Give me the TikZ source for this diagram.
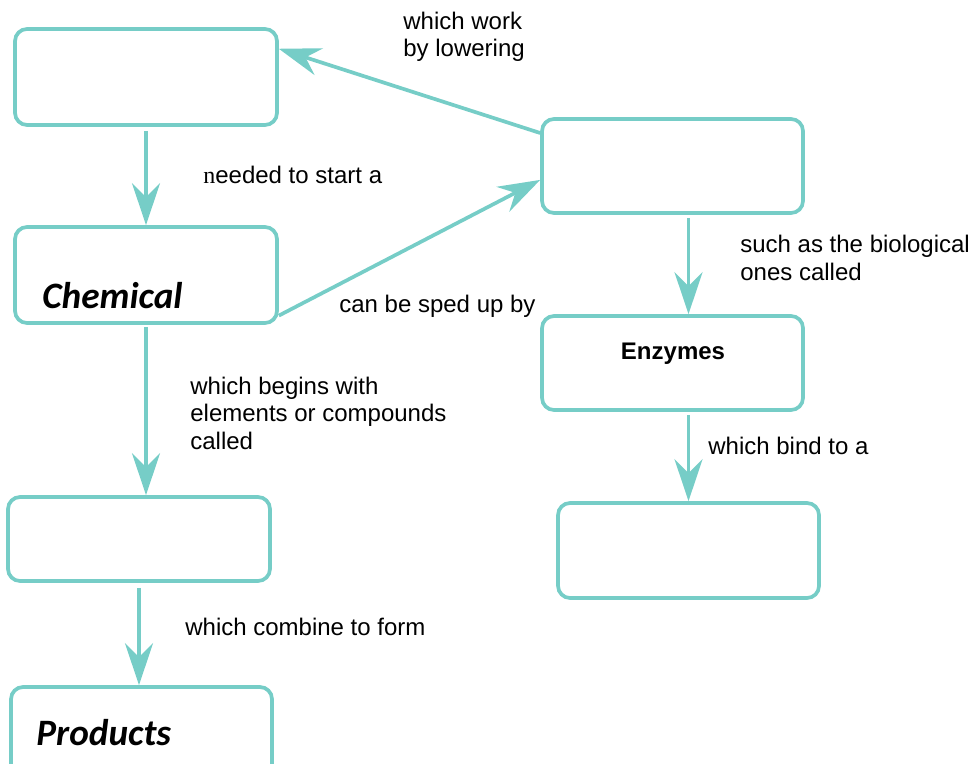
\documentclass[tikz,border=0pt]{standalone}
\usepackage{fontspec}
\setmainfont{Liberation Sans}
\newfontfamily\calfont{Carlito}
\newfontfamily\serfont{Liberation Serif}
\usetikzlibrary{arrows.meta}
\definecolor{mapteal}{RGB}{118,205,199}
\tikzset{
  box/.style={draw=mapteal, line width=2.1pt, rounded corners=0.24cm,
    minimum width=5.24cm, minimum height=1.92cm, inner sep=0pt},
  lbl/.style={anchor=base west, inner sep=0pt, align=left,
    font=\fontsize{13.66}{15.37}\selectfont},
  word/.style={anchor=base west, inner sep=0pt,
    font=\calfont\bfseries\itshape\fontsize{21.2}{24}\selectfont},
  link/.style={draw=mapteal, line width=2.1pt,
    -{Stealth[length=0.84cm, width=0.56cm, inset=0.28cm]}},
}

\begin{document}
\begin{tikzpicture}[x=0.02cm, y=-0.02cm]
\useasboundingbox (0,0) rectangle (972,763);
\node[box] (energy) at (146,77) {}; % top left
\node[box] (chem) at (146,275) {}; % Chemical
\node[box, minimum height=1.68cm] (reactants) at (139,539) {}; % left, third
\node[box, minimum width=5.22cm] (products) at (141.5,735) {}; % Products
\node[box, minimum width=5.22cm, minimum height=1.88cm] (catalyst) at (672.5,166) {}; % right top
\node[box, minimum width=5.22cm, minimum height=1.88cm] (enzymes) at (672.5,363) {}; % Enzymes
\node[box, minimum width=5.22cm, minimum height=1.9cm] (substrate) at (688.5,550.5) {}; % right bottom

\node[word] (chemtxt) at (42,308) {Chemical};
\node[word] (prodtxt) at (36,745) {Products};
\node[anchor=base, inner sep=0pt, font=\bfseries\fontsize{13.66}{15.37}\selectfont] (enztxt) at (673,359) {Enzymes};

\draw[link, shorten <=0.08cm] (energy.south) -- (chem.north); % needed
\draw[link, shorten <=0.04cm] (chem.south) -- (chem.south |- reactants.north); % begins
\draw[link, shorten <=0.1cm] (reactants.south) -- (reactants.south |- products.north); % combine
\draw[link] (chem.-17) -- (catalyst.186.6); % sped up
\draw[link] (catalyst.166) -- (energy.12.5); % lowering
\draw[link, shorten <=0.06cm] (substrate.north |- catalyst.south) -- (substrate.north |- enzymes.north); % such as
\draw[link, shorten <=0.06cm] (substrate.north |- enzymes.south) -- (substrate.north); % bind

\node[lbl] (lower) at (403,57) {which work\\by lowering};
\node[lbl] (start) at (203,184) {{\serfont n}eeded to start a};
\node[lbl] (speed) at (339,312) {can be sped up by};
\node[lbl] (such) at (740,280) {such as the biological\\ones called};
\node[lbl] (begin) at (190,449) {which begins with\\elements or compounds\\called};
\node[lbl] (bind) at (708,454) {which bind to a};
\node[lbl] (form) at (185,635) {which combine to form};
\end{tikzpicture}
\end{document}
